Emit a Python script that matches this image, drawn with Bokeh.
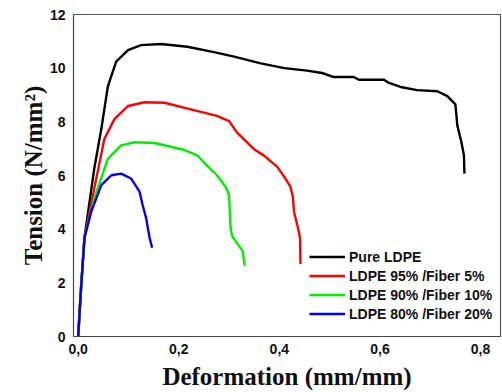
from bokeh.plotting import figure
from bokeh.models import FixedTicker, Legend, LegendItem
from bokeh.embed import file_html
from bokeh.resources import INLINE

# ---- data ----
pure_x = [0, 0.006, 0.0125, 0.032, 0.046, 0.059, 0.0755, 0.099, 0.125, 0.165, 0.217, 0.27, 0.31,
          0.363, 0.41, 0.455, 0.485, 0.508, 0.548, 0.558, 0.608, 0.618, 0.641, 0.674, 0.714, 0.734,
          0.75, 0.754, 0.762, 0.767, 0.768]
pure_y = [0, 1.9, 3.68, 6.26, 7.73, 9.32, 10.24, 10.67, 10.86, 10.9, 10.8, 10.6, 10.43,
          10.18, 10.0, 9.91, 9.82, 9.67, 9.67, 9.57, 9.57, 9.45, 9.3, 9.18, 9.14, 8.96,
          8.65, 7.85, 7.24, 6.75, 6.07]

f5_x = [0, 0.006, 0.0125, 0.032, 0.052, 0.072, 0.099, 0.132, 0.172, 0.21, 0.276, 0.30, 0.316,
        0.349, 0.369, 0.396, 0.412, 0.422, 0.427, 0.429, 0.437, 0.441, 0.442]
f5_y = [0, 1.9, 3.68, 5.52, 7.36, 8.1, 8.59, 8.73, 8.71, 8.53, 8.22, 8.03, 7.6,
        6.99, 6.75, 6.32, 5.89, 5.58, 5.2, 4.66, 4.05, 3.68, 2.7]

f10_x = [0, 0.006, 0.0125, 0.032, 0.059, 0.0855, 0.112, 0.152, 0.21, 0.237, 0.256, 0.276, 0.293,
         0.30, 0.303, 0.306, 0.32, 0.327, 0.331]
f10_y = [0, 1.9, 3.68, 5.15, 6.62, 7.12, 7.24, 7.21, 6.96, 6.75, 6.38, 6.01, 5.58,
         5.27, 4.05, 3.74, 3.37, 3.19, 2.64]

f20_x = [0, 0.005, 0.0125, 0.026, 0.046, 0.066, 0.0855, 0.105, 0.122, 0.128, 0.135, 0.142, 0.147]
f20_y = [0, 1.6, 3.68, 4.66, 5.64, 6.01, 6.07, 5.89, 5.4, 4.91, 4.42, 3.68, 3.31]

x_ticks = [0.0, 0.2, 0.4, 0.6, 0.8]
x_tick_labels = ["0,0", "0,2", "0,4", "0,6", "0,8"]
y_ticks = [0, 2, 4, 6, 8, 10, 12]

series = [
    ("Pure LDPE", pure_x, pure_y, "#000000"),
    ("LDPE 95% /Fiber 5%", f5_x, f5_y, "#ff0000"),
    ("LDPE 90% /Fiber 10%", f10_x, f10_y, "#00ee00"),
    ("LDPE 80% /Fiber 20%", f20_x, f20_y, "#0000ff"),
]

p = figure(width=502, height=392, output_backend="svg", toolbar_location=None,
           x_range=(-0.0093, 0.8397), y_range=(0, 12),
           min_border_left=73, min_border_right=2, min_border_top=14, min_border_bottom=52)

items = []
for name, xs, ys, col in series:
    r = p.line(xs, ys, line_color=col, line_width=2.4, line_join="round")
    items.append(LegendItem(label=name, renderers=[r]))

p.grid.visible = False
p.outline_line_color = "#555555"
p.outline_line_width = 1.2
p.background_fill_color = "white"
p.border_fill_color = "white"

for ax in (p.xaxis[0], p.yaxis[0]):
    ax.major_tick_line_color = None
    ax.minor_tick_line_color = None
    ax.axis_line_color = "#444444"
    ax.major_label_text_font = "Liberation Sans"
    ax.major_label_text_font_style = "bold"
    ax.major_label_text_font_size = "14px"
    ax.major_label_text_color = "#111111"
    ax.axis_label_text_font = "Liberation Serif"
    ax.axis_label_text_font_style = "bold"
    ax.axis_label_text_font_size = "25px"
    ax.axis_label_text_color = "#111111"

p.xaxis.ticker = FixedTicker(ticks=x_ticks)
p.xaxis.major_label_overrides = {t: l for t, l in zip(x_ticks, x_tick_labels)}
p.yaxis.ticker = FixedTicker(ticks=y_ticks)
p.xaxis.axis_label = "Deformation (mm/mm)"
p.yaxis.axis_label = "Tension (N/mm²)"
p.xaxis.major_label_standoff = 1
p.yaxis.major_label_standoff = 2
p.xaxis.axis_label_standoff = 6
p.yaxis.axis_label_standoff = 0

legend = Legend(items=items, location=(236, 13), padding=0, spacing=0,
                glyph_width=36, glyph_height=19, label_height=19, label_standoff=4,
                border_line_color=None, background_fill_alpha=0,
                label_text_font="Liberation Sans", label_text_font_style="bold",
                label_text_font_size="14px", label_text_color="#111111")
p.add_layout(legend, "center")

open("out.html", "w").write(file_html(p, INLINE))
